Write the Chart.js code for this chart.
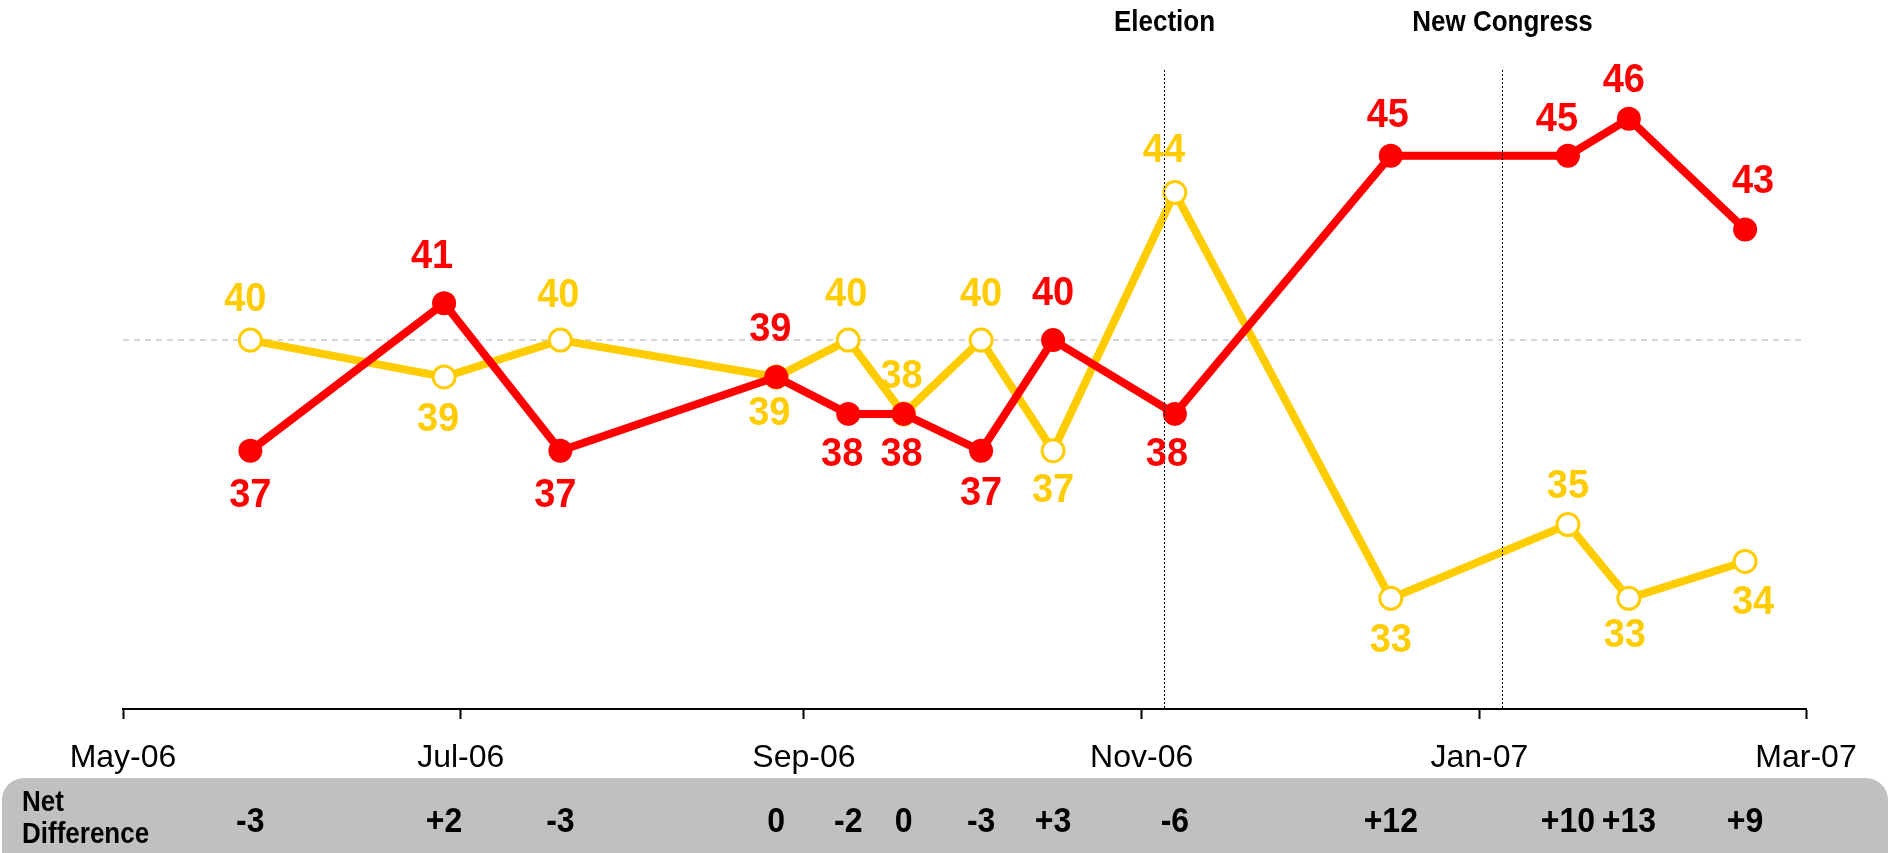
<!DOCTYPE html>
<html>
<head>
<meta charset="utf-8">
<script src="https://cdn.jsdelivr.net/npm/chart.js@4.4.1/dist/chart.umd.min.js"></script>
<style>
  html, body { margin: 0; padding: 0; background: #fff; }
  #wrap { width: 1892px; height: 853px; position: relative; }
</style>
</head>
<body>
<div id="wrap"><canvas id="chart"></canvas></div>
<script>
// survey dates and results
const surveyDates = [
  '2006-05-24', '2006-06-28', '2006-07-19', '2006-08-27', '2006-09-09',
  '2006-09-19', '2006-10-03', '2006-10-16', '2006-11-07', '2006-12-16',
  '2007-01-17', '2007-01-28', '2007-02-18'
];
const redValues  = [37, 41, 37, 39, 38, 38, 37, 40, 38, 45, 45, 46, 43];
const goldValues = [40, 39, 40, 39, 40, 38, 40, 37, 44, 33, 35, 33, 34];
const netDifference = ['-3', '+2', '-3', '0', '-2', '0', '-3', '+3', '-6', '+12', '+10', '+13', '+9'];

const tickDates  = ['2006-05-01', '2006-07-01', '2006-09-01', '2006-11-01', '2007-01-01', '2007-03-01'];
const tickLabels = ['May-06', 'Jul-06', 'Sep-06', 'Nov-06', 'Jan-07', 'Mar-07'];

const eventDates  = ['2006-11-05', '2007-01-05'];
const eventLabels = ['Election', 'New Congress'];

// where each value label sits relative to its point [dx, dy]
const redLabelOffsets = [
  [0, 45], [-12, -47], [-5, 45], [-6, -47], [-6, 41], [-2, 41], [0, 43],
  [0, -46], [-8, 41], [-3, -40], [-11, -36], [-5, -38], [8, -48]
];
const goldLabelOffsets = [
  [-5, -40], [-6, 43], [-2, -44], [-7, 37], [-2, -45], [-2, -37], [0, -45],
  [0, 40], [-11, -42], [0, 42], [0, -38], [-4, 37], [8, 41]
];

const RED = '#FF0000';
const GOLD = '#FFCC00';
const FONT = "'Liberation Sans', Arial, sans-serif";

const startMs = Date.parse('2006-05-01');
const toDay = d => (Date.parse(d) - startMs) / 864e5;

const tickDays = tickDates.map(toDay);
const surveyDays = surveyDates.map(toDay);

// text drawn a little taller than wide, like the original
function tallText(ctx, text, x, y, sy) {
  ctx.save();
  ctx.translate(x, y);
  ctx.scale(1, sy);
  ctx.fillText(text, 0, 0);
  ctx.restore();
}

const backdrop = {
  id: 'backdrop',
  beforeDraw(chart) {
    const ctx = chart.ctx;
    ctx.save();
    ctx.fillStyle = '#fff';
    ctx.fillRect(0, 0, chart.width, chart.height);
    // grey band for the net difference row
    ctx.fillStyle = '#c0c0c0';
    ctx.beginPath();
    ctx.roundRect(2, 778, chart.width - 6, 120, 22);
    ctx.fill();
    ctx.restore();
  },
  beforeDatasetsDraw(chart) {
    const { ctx, chartArea, scales } = chart;
    const y = scales.y.getPixelForValue(40);
    ctx.save();
    ctx.strokeStyle = '#c8c8c8';
    ctx.lineWidth = 1.5;
    ctx.setLineDash([6, 5]);
    ctx.beginPath();
    ctx.moveTo(chartArea.left, y);
    ctx.lineTo(chartArea.right, y);
    ctx.stroke();
    ctx.restore();
  },
  afterDatasetsDraw(chart) {
    const { ctx, chartArea, scales } = chart;
    ctx.save();
    // event markers
    eventDates.forEach((d, i) => {
      const x = Math.round(scales.x.getPixelForValue(toDay(d))) + 0.5;
      ctx.strokeStyle = '#000';
      ctx.lineWidth = 1;
      ctx.setLineDash([2, 2]);
      ctx.beginPath();
      ctx.moveTo(x, 70);
      ctx.lineTo(x, chartArea.bottom);
      ctx.stroke();
      ctx.setLineDash([]);
      ctx.fillStyle = '#000';
      ctx.font = 'bold 26px ' + FONT;
      ctx.textAlign = 'center';
      ctx.textBaseline = 'middle';
      tallText(ctx, eventLabels[i], x, 23, 1.1);
    });

    // value labels
    ctx.font = 'bold 38px ' + FONT;
    ctx.textAlign = 'center';
    ctx.textBaseline = 'middle';
    const sets = [[redLabelOffsets, RED], [goldLabelOffsets, GOLD]];
    chart.data.datasets.forEach((ds, di) => {
      const meta = chart.getDatasetMeta(di);
      const [offs, color] = sets[di];
      ctx.fillStyle = color;
      meta.data.forEach((pt, i) => {
        tallText(ctx, String(ds.data[i].y), pt.x + offs[i][0], pt.y + offs[i][1], 1.08);
      });
    });
    ctx.restore();
  },
  afterDraw(chart) {
    const { ctx, scales } = chart;
    ctx.save();
    ctx.fillStyle = '#000';
    ctx.textBaseline = 'middle';
    ctx.textAlign = 'left';
    ctx.font = 'bold 26px ' + FONT;
    tallText(ctx, 'Net', 22, 803, 1.1);
    tallText(ctx, 'Difference', 22, 835, 1.1);
    ctx.textAlign = 'center';
    ctx.font = 'bold 32px ' + FONT;
    netDifference.forEach((v, i) => {
      tallText(ctx, v, scales.x.getPixelForValue(surveyDays[i]), 822, 1.1);
    });
    ctx.restore();
  }
};

new Chart(document.getElementById('chart'), {
  type: 'line',
  data: {
    datasets: [
      {
        label: 'Red',
        data: surveyDays.map((x, i) => ({ x, y: redValues[i] })),
        borderColor: RED,
        borderWidth: 8,
        backgroundColor: RED,
        pointBackgroundColor: RED,
        pointBorderColor: RED,
        pointBorderWidth: 0,
        pointRadius: 12,
        tension: 0
      },
      {
        label: 'Gold',
        data: surveyDays.map((x, i) => ({ x, y: goldValues[i] })),
        borderColor: GOLD,
        borderWidth: 8,
        backgroundColor: GOLD,
        pointBackgroundColor: '#fff',
        pointBorderColor: GOLD,
        pointBorderWidth: 3,
        pointRadius: 11,
        tension: 0
      }
    ]
  },
  options: {
    responsive: true,
    maintainAspectRatio: false,
    animation: false,
    layout: {
      padding: { top: 45, left: 123, right: 86, bottom: 0 }
    },
    plugins: {
      legend: { display: false },
      tooltip: { enabled: false }
    },
    scales: {
      x: {
        type: 'linear',
        min: 0,
        max: toDay('2007-03-01'),
        afterBuildTicks: axis => {
          axis.ticks = tickDays.map(v => ({ value: v }));
        },
        afterFit: axis => {
          axis.height = 144;
        },
        border: { display: true, color: '#000', width: 2 },
        grid: {
          drawOnChartArea: false,
          drawTicks: true,
          tickLength: 10,
          tickColor: '#000',
          tickWidth: 2
        },
        ticks: {
          autoSkip: false,
          maxRotation: 0,
          padding: 20,
          color: '#000',
          font: { family: FONT, size: 32 },
          callback: (value, index) => tickLabels[index]
        }
      },
      y: {
        display: false,
        min: 30,
        max: 48
      }
    }
  },
  plugins: [backdrop]
});
</script>
</body>
</html>
